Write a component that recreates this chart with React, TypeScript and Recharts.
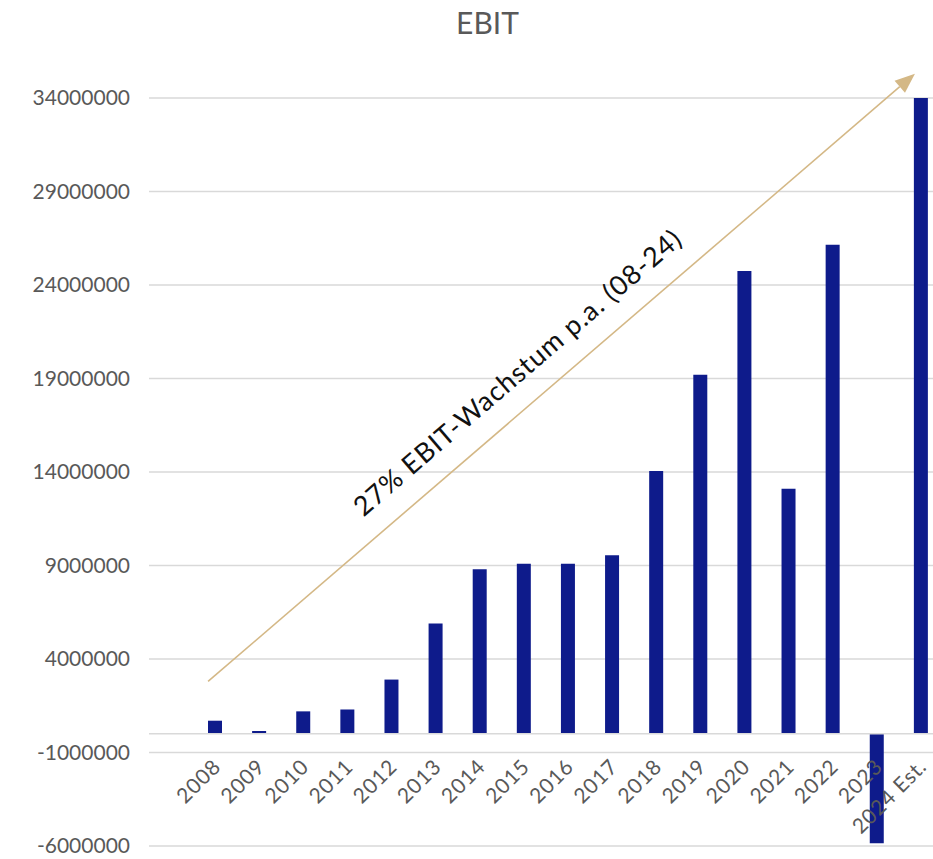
import React from "react";
import { BarChart, Bar, XAxis, YAxis, CartesianGrid, ReferenceLine } from "recharts";

// EBIT per year (EUR)
const years = ["2008", "2009", "2010", "2011", "2012", "2013", "2014", "2015", "2016", "2017", "2018", "2019", "2020", "2021", "2022", "2023", "2024 Est."];
const ebit = [700000, 150000, 1200000, 1300000, 2900000, 5900000, 8800000, 9100000, 9100000, 9550000, 14050000, 19200000, 24750000, 13100000, 26150000, -5850000, 34000000];
const yTicks = [-6000000, -1000000, 4000000, 9000000, 14000000, 19000000, 24000000, 29000000, 34000000];

// trend arrow, drawn from first to last year
const trendLabel = "27% EBIT-Wachstum p.a. (08-24)";
const trendStart = 2800000;
const trendEnd = 35300000;

const data = years.map((year, i) => ({ year, ebit: ebit[i] }));

const FONT = "Lato, 'Open Sans', sans-serif";
const GREY = "#595959";
const ARROW = "#D4B886";

function YearTick(props: any) {
  const { x, y, payload } = props;
  return (
    <g transform={`translate(${x + 7},${y - 78})`}>
      <text textAnchor="end" transform="rotate(-45)" fill={GREY} fontSize={21} letterSpacing={0.8} fontFamily={FONT}>
        {payload.value}
      </text>
    </g>
  );
}

function TrendArrow(props: any) {
  const { y1, y2 } = props;
  // arrow sits a little left of the bar centres
  const x1 = props.x1 - 7;
  const x2 = props.x2 - 6;
  const dx = x2 - x1;
  const dy = y2 - y1;
  const len = Math.sqrt(dx * dx + dy * dy);
  const ux = dx / len;
  const uy = dy / len;
  const head = 20;
  const half = 8;
  const bx = x2 - ux * head;
  const by = y2 - uy * head;
  const angle = (Math.atan2(dy, dx) * 180) / Math.PI;
  const mx = (x1 + x2) / 2;
  const my = (y1 + y2) / 2;
  return (
    <g>
      <line x1={x1} y1={y1} x2={bx} y2={by} stroke={ARROW} strokeWidth={1.6} />
      <polygon
        points={`${x2},${y2} ${bx - uy * half},${by + ux * half} ${bx + uy * half},${by - ux * half}`}
        fill={ARROW}
      />
      <g transform={`translate(${mx},${my}) rotate(${angle})`}>
        <text x={-30} y={-23} textAnchor="middle" fill="#111" fontSize={27} letterSpacing={1} fontFamily={FONT}>
          {trendLabel}
        </text>
      </g>
    </g>
  );
}

export default function App() {
  return (
    <div style={{ position: "absolute", left: 0, top: 0, width: 933, height: 859, overflow: "hidden", background: "#fff" }}>
      <div style={{ position: "absolute", left: 0, top: 0, width: 933, textAlign: "center", fontFamily: FONT, fontSize: 30, color: GREY, paddingTop: 4 }}>
        <span style={{ position: "relative", left: 21 }}>EBIT</span>
      </div>
      <BarChart width={943} height={859} data={data} margin={{ top: 98, right: 0, bottom: 0, left: 0 }}>
        <CartesianGrid vertical={false} stroke="#D9D9D9" strokeWidth={1.5} />
        <XAxis
          dataKey="year"
          height={13}
          axisLine={false}
          tickLine={false}
          tickSize={0}
          tickMargin={0}
          interval={0}
          padding={{ left: 44, right: 0 }}
          tick={<YearTick />}
        />
        <YAxis
          width={149}
          domain={[-6000000, 34000000]}
          ticks={yTicks}
          axisLine={false}
          tickLine={false}
          tickMargin={13}
          tick={{ fill: GREY, fontSize: 21, fontFamily: FONT }}
        />
        <ReferenceLine y={0} stroke="#D9D9D9" strokeWidth={1.5} />
        <Bar dataKey="ebit" fill="#0E1B8B" barSize={14} isAnimationActive={false} />
        <ReferenceLine
          segment={[{ x: "2008", y: trendStart }, { x: "2024 Est.", y: trendEnd }]}
          ifOverflow="visible"
          shape={<TrendArrow />}
        />
      </BarChart>
    </div>
  );
}
